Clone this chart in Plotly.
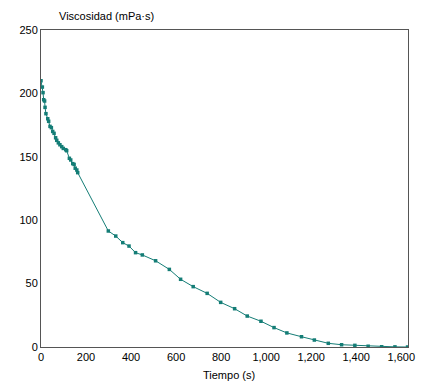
import plotly.graph_objects as go

tiempo = [0, 6, 9, 12, 16, 18, 22, 30, 34, 40, 46, 52, 58, 65, 70, 77, 84, 92, 99, 110,
          114, 126, 132, 141, 147, 152, 159, 163, 299, 332, 363, 391, 420, 450, 509, 570,
          620, 676, 738, 798, 860, 916, 977, 1035, 1092, 1157, 1214, 1276, 1335, 1394,
          1453, 1513, 1572, 1628]
viscosidad = [210, 205, 200.6, 195, 194, 189, 184, 180, 178, 174, 173, 170, 168.5, 165, 163,
              161, 159.5, 158, 156.6, 155.6, 154.8, 148.8, 147.5, 144.6, 144, 141, 139.6, 137.5,
              91.5, 87.5, 82.3, 79.6, 74.4, 72.6, 68, 61.2, 53.4, 47.6, 42.3, 35.2, 30.2, 24.4,
              20.3, 15.3, 11.1, 8.1, 5.5, 2.9, 1.8, 1.3, 0.6, 0.2, 0.1, 0.0]

x_ticks = [0, 200, 400, 600, 800, 1000, 1200, 1400, 1600]
y_ticks = [0, 50, 100, 150, 200, 250]

color = "#147d76"
font_family = "Liberation Sans, Arial, sans-serif"

fig = go.Figure()
fig.add_trace(go.Scatter(
    x=tiempo, y=viscosidad, mode="lines+markers",
    line=dict(color=color, width=1),
    marker=dict(symbol="square", size=3.5, color=color, line=dict(width=0)),
    hoverinfo="x+y", showlegend=False,
))

axis_common = dict(
    showgrid=False, zeroline=False, showline=True, linecolor="#555555", linewidth=1,
    mirror=True, ticks="", tickfont=dict(family=font_family, size=11, color="#000000"),
)

# page body has an 8px margin, compensate
fig.update_layout(
    width=427, height=382,
    margin=dict(l=33, r=27, t=22, b=43, autoexpand=False),
    paper_bgcolor="white", plot_bgcolor="white",
    xaxis=dict(range=[0, 1630], tickvals=x_ticks, tickformat=",d", **axis_common),
    yaxis=dict(range=[0, 250], tickvals=y_ticks, **axis_common),
    annotations=[
        dict(text="Viscosidad (mPa·s)", xref="paper", yref="paper", x=(57 - 41) / 367,
             y=1 + 22 / 317, xanchor="left", yanchor="top", showarrow=False,
             font=dict(family=font_family, size=11, color="#000")),
        dict(text="Tiempo (s)", xref="paper", yref="paper", x=(229 - 41) / 367,
             y=-28 / 317, xanchor="center", yanchor="middle", showarrow=False,
             font=dict(family=font_family, size=11, color="#000")),
    ],
)

fig.write_html("out.html")
